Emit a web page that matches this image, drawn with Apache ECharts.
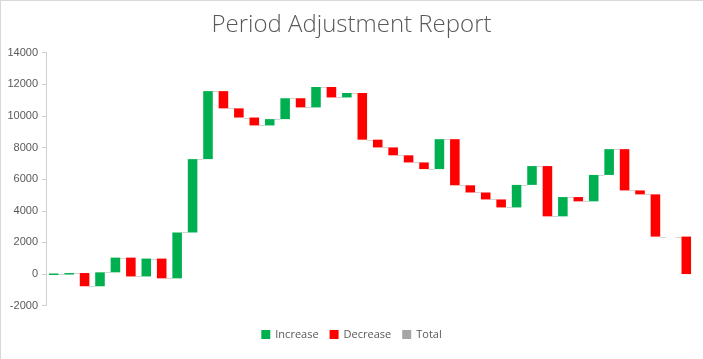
<!DOCTYPE html>
<html>
<head>
<meta charset="utf-8">
<script src="https://cdn.jsdelivr.net/npm/echarts@6/dist/echarts.min.js"></script>
<style>
html,body{margin:0;padding:0;background:#fff;}
#c{width:703px;height:359px;}
</style>
</head>
<body>
<div id="c"></div>
<script>
const categories = ['P1','P2','P3','P4','P5','P6','P7','P8','P9','P10','P11','P12','P13','P14','P15','P16','P17','P18','P19','P20','P21','P22','P23','P24','P25','P26','P27','P28','P29','P30','P31','P32','P33','P34','P35','P36','P37','P38','P39','P40','P41','P42'];
const changes = [35, 30, -835, 880, 930, -1190, 1130, -1250, 2900, 4640, 4300, -1090, -580, -500, 400, 1320, -580, 1290, -660, 280, -2950, -490, -500, -450, -420, 1890, -2915, -455, -440, -505, 1425, 1190, -3180, 1220, -270, 1670, 1630, -2610, -250, -2670, 0, -2370];
const yTicks = [-2000, 0, 2000, 4000, 6000, 8000, 10000, 12000, 14000];
const legendNames = ['Increase', 'Decrease', 'Total'];

const COLORS = { inc: '#00B050', dec: '#FF0000', tot: '#A5A5A5', conn: '#D4D4D4' };

// Running start/end levels from changes
const incData = [], decData = [], connData = [];
let level = 0;
changes.forEach((c, i) => {
  const s = level, e = level + c;
  if (c > 0) incData.push([i, s, e]);
  else if (c < 0) decData.push([i, s, e]);
  if (i < changes.length - 1) connData.push([i, e]);
  level = e;
});

function barRenderer(color) {
  return function (params, api) {
    const i = api.value(0);
    const p1 = api.coord([i, api.value(1)]);
    const p2 = api.coord([i, api.value(2)]);
    const w = api.size([1, 0])[0] * 0.62;
    const top = Math.min(p1[1], p2[1]);
    const h = Math.max(Math.abs(p1[1] - p2[1]), 1.5);
    return { type: 'rect', shape: { x: p1[0] - w / 2, y: top, width: w, height: h }, style: { fill: color } };
  };
}

function connRenderer(params, api) {
  const i = api.value(0);
  const v = api.value(1);
  const a = api.coord([i, v]);
  const b = api.coord([i + 1, v]);
  const w = api.size([1, 0])[0] * 0.62;
  const y = Math.round(a[1]) + 0.5;
  return { type: 'line', shape: { x1: a[0] + w / 2, y1: y, x2: b[0] - w / 2, y2: y }, style: { stroke: COLORS.conn, lineWidth: 1 } };
}

const chart = echarts.init(document.getElementById('c'), null, { renderer: 'canvas' });
chart.setOption({
  animation: false,
  backgroundColor: '#fff',
  title: {
    text: 'Period Adjustment Report',
    left: 'center',
    top: 8,
    textStyle: { fontFamily: 'Open Sans', fontWeight: 300, fontSize: 24, color: '#595959' }
  },
  legend: {
    data: legendNames,
    bottom: 14,
    left: 'center',
    icon: 'rect',
    itemWidth: 9,
    itemHeight: 9,
    itemGap: 11,
    textStyle: { fontFamily: 'Open Sans', fontSize: 11, color: '#595959' }
  },
  grid: { left: 46, right: 9, top: 52.7, bottom: 53.3, containLabel: false },
  xAxis: {
    type: 'category',
    data: categories,
    boundaryGap: true,
    axisLine: { show: false },
    axisTick: { show: false },
    axisLabel: { show: false },
    splitLine: { show: false }
  },
  yAxis: {
    type: 'value',
    min: yTicks[0],
    max: yTicks[yTicks.length - 1],
    interval: 2000,
    axisLine: { show: true, lineStyle: { color: '#D0D0D0', width: 1 } },
    axisTick: { show: true, length: 4, lineStyle: { color: '#D0D0D0' } },
    axisLabel: { fontFamily: 'Liberation Sans', fontSize: 11, color: '#595959', margin: 8, formatter: v => String(v) },
    splitLine: { show: false }
  },
  series: [
    {
      name: 'Connector', type: 'custom', renderItem: connRenderer,
      data: connData, encode: { x: 0, y: 1 }, silent: true, z: 1
    },
    {
      name: 'Increase', type: 'custom', renderItem: barRenderer(COLORS.inc),
      itemStyle: { color: COLORS.inc }, data: incData, encode: { x: 0, y: [1, 2] }, z: 2
    },
    {
      name: 'Decrease', type: 'custom', renderItem: barRenderer(COLORS.dec),
      itemStyle: { color: COLORS.dec }, data: decData, encode: { x: 0, y: [1, 2] }, z: 2
    },
    {
      name: 'Total', type: 'custom', renderItem: barRenderer(COLORS.tot),
      itemStyle: { color: COLORS.tot }, data: [], encode: { x: 0, y: [1, 2] }, z: 2
    }
  ],
  graphic: [
    { type: 'line', shape: { x1: 0.5, y1: 0, x2: 0.5, y2: 359 }, style: { stroke: '#D9D9D9', lineWidth: 1 }, silent: true },
    { type: 'line', shape: { x1: 0, y1: 0.5, x2: 703, y2: 0.5 }, style: { stroke: '#D9D9D9', lineWidth: 1 }, silent: true }
  ]
});
</script>
</body>
</html>
